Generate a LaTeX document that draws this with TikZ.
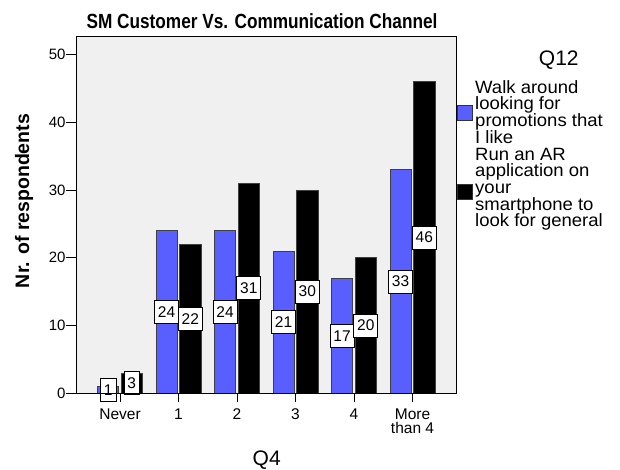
\documentclass[tikz,border=0pt]{standalone}
\usepackage{fontspec}
\setmainfont{Liberation Sans}
\newfontfamily\titlefont[FakeStretch=0.84]{Liberation Sans}
\newfontfamily\legfont[FakeStretch=1.04]{Liberation Sans}
\definecolor{barblue}{RGB}{88,94,255}
\definecolor{plotbg}{RGB}{240,240,240}
\begin{document}
\begin{tikzpicture}[x=1pt,y=-1pt,
  font=\fontsize{15}{17}\selectfont,
  bar/.style={draw=black!75, line width=0.7pt},
  vlabel/.style={draw=black, fill=white, line width=0.8pt, inner xsep=3.5pt, inner ysep=0pt,
    minimum height=23pt, font=\fontsize{15.5}{17}\selectfont},
  ticklab/.style={anchor=base, inner sep=0pt, font=\fontsize{15.5}{17}\selectfont},
  legtext/.style={anchor=base west, inner sep=0pt, font=\legfont\fontsize{17.8}{17}\selectfont},
  axtitle/.style={inner sep=0pt, font=\fontsize{21}{24}\selectfont},
]
\useasboundingbox (0,0) rectangle (620,470);
% plot background
\fill[plotbg] (76.7,36.7) rectangle (456.7,393.3);
% bars
\foreach \i/\a/\b in {0/1/3,1/24/22,2/24/31,3/21/30,4/17/20,5/33/46}{
  \pgfmathsetmacro\t{120+58.5*\i}
  \pgfmathsetmacro\ya{393.3-6.776*\a}
  \pgfmathsetmacro\yb{393.3-6.776*\b}
  \draw[bar, fill=barblue] (\t-22.5,393.3) rectangle (\t-1.3,\ya);
  \draw[bar, fill=black] (\t+1,393.3) rectangle (\t+22.5,\yb);
}
\foreach \i/\a/\b in {0/1/3,1/24/22,2/24/31,3/21/30,4/17/20,5/33/46}{
  \pgfmathsetmacro\t{120+58.5*\i}
  \pgfmathsetmacro\ya{393.3-6.776*\a}
  \pgfmathsetmacro\yb{393.3-6.776*\b}
  \node[vlabel] (la\i) at (\t-11.9, {(393.3+\ya)/2}) {\a};
  \node[vlabel] (lb\i) at (\t+11.75, {(393.3+\yb)/2}) {\b};
}
% frame
\draw[line width=1.2pt] (76.7,36.7) rectangle (456.7,393.3);
% y ticks
\foreach \v/\lab in {0/0,1/10,2/20,3/30,4/40,5/50}{
  \pgfmathsetmacro\yy{393.3-67.76*\v}
  \draw[line width=1pt] (66,\yy) -- (76.7,\yy);
  \node[anchor=east, inner sep=0pt] (yt\v) at (65.7,\yy) {\lab};
}
% x ticks
\foreach \i/\lab in {0/Never,1/1,2/2,3/3,4/4}{
  \pgfmathsetmacro\t{120+58.5*\i}
  \draw[line width=1pt] (\t,393.3) -- (\t,402);
  \node[ticklab] (xt\i) at (\t,419.3) {\lab};
}
\draw[line width=1pt] (412.5,393.3) -- (412.5,402);
\node[anchor=north, inner sep=0pt, align=center, font=\fontsize{15.5}{14}\selectfont] (xt5) at (412.5,408.2) {More\\than 4};
% axis titles
\node[axtitle] (q4) at (266.7,460) {Q4};
\node[inner sep=0pt, rotate=90, font=\fontsize{19.5}{22}\selectfont\bfseries] (ytitle) at (24,201) {Nr. of respondents};
% title
\node[anchor=base, inner sep=0pt, font=\titlefont\fontsize{20.5}{23}\selectfont\bfseries] (title) at (262,28.3) {SM Customer Vs. Communication Channel};
% legend
\node[axtitle] (q12) at (558.8,60) {Q12};
\draw[fill=barblue, draw=black!80, line width=0.6pt] (457,105) rectangle (472,120);
\draw[fill=black, draw=black!80, line width=0.6pt] (457,184) rectangle (472,199);
\foreach \k/\txt in {0/Walk around,1/looking for,2/promotions that,3/I like,4/Run an AR,5/application on,6/your,7/smartphone to,8/look for general}{
  \node[legtext] (leg\k) at (475,{93.3+16.7*\k}) {\txt};
}
\end{tikzpicture}
\end{document}
